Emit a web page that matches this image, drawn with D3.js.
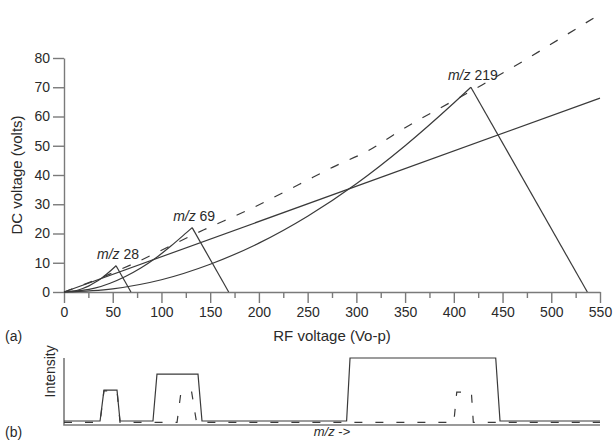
<!DOCTYPE html>
<html>
<head>
<meta charset="utf-8">
<script src="https://cdn.jsdelivr.net/npm/d3@7"></script>
<style>
  body { margin: 0; background: #fff; }
  text { font-family: "Liberation Sans", Arial, sans-serif; fill: #2a2a2a; }
</style>
</head>
<body>
<div id="chart"></div>
<script>
// RF voltage ticks and DC voltage ticks
var xTicks = [0, 50, 100, 150, 200, 250, 300, 350, 400, 450, 500, 550];
var xMinorTicks = [25, 75, 125, 175, 225, 275, 325, 375, 425, 475, 525];
var yTicks = [0, 10, 20, 30, 40, 50, 60, 70, 80];

// stability boundaries [RF, DC]: rising edge up to the apex, then the falling edge
var mz28 = [[0, 0], [12.8, 0.5], [19.2, 1.2], [25.6, 2.1], [32, 3.3], [38.4, 4.7], [44.8, 6.4], [51.2, 8.3], [53.4, 9]];
var mz28End = [53.4, 9, 68.7, 0];
var mz69 = [[0, 0], [31.5, 1.3], [47.3, 3], [63, 5.3], [78.8, 8.2], [94.5, 11.7], [110, 15.8], [126, 20.4], [131.5, 22]];
var mz69End = [131.5, 22, 169, 0];
var mz219 = [[0, 0], [50, 1.1], [100, 4.2], [150, 9.5], [200, 16.7], [250, 25.9], [300, 37], [350, 50], [400, 64.6], [417.5, 70]];
var mz219End = [417.5, 70, 537, 0];
var scanLine = [[0, 0], [550, 66.3]];
var scanCurve = [[0, 0], [30, 3.8], [68, 9.2], [143, 21.2], [190, 28.2], [242, 36.9], [276, 42.7], [317, 49.2], [338, 53.7], [429, 70.8], [468, 78.3], [507, 86.2], [550, 95]];
var peakLabels = [{ name: "28", at: [53.4, 9] }, { name: "69", at: [131.5, 22] }, { name: "219", at: [417.5, 70] }];

// spectrum (b): [m/z position, intensity]
var spectrumSolid = [[0, 6], [37, 6], [41, 52], [54.4, 52], [57.5, 6], [91.3, 6], [95.4, 76], [137.5, 76], [141.6, 6], [290, 6], [293.5, 100], [443, 100], [447.4, 6], [550, 6]];
var spectrumDashed = [[0, 4], [37, 4], [41, 51], [54.4, 51], [57.5, 4], [116, 4], [120, 49], [131, 49], [136, 4], [400, 4], [403, 49], [418, 49], [420, 4], [550, 4]];

var width = 613, height = 441;

var svg = d3.select("#chart").append("svg")
    .attr("width", width)
    .attr("height", height);

var x = d3.scaleLinear().domain([0, 550]).range([64, 600]);
var y = d3.scaleLinear().domain([0, 80]).range([292, 58]);

var lineColor = "#3a3a3a", axisColor = "#7a7a7a";

//axes of panel (a)
svg.append("g")
    .attr("transform", "translate(0," + y(0) + ")")
    .call(d3.axisBottom(x).tickValues(xTicks).tickSize(11).tickSizeOuter(0).tickPadding(4));
svg.append("g")
    .attr("transform", "translate(0," + y(0) + ")")
    .call(d3.axisBottom(x).tickValues(xMinorTicks).tickSize(6).tickFormat(""))
    .select(".domain").remove();
svg.append("g")
    .attr("transform", "translate(" + x(0) + ",0)")
    .call(d3.axisLeft(y).tickValues(yTicks).tickSize(11).tickSizeOuter(0).tickPadding(3));

svg.selectAll(".domain, .tick line")
    .attr("stroke", axisColor)
    .attr("stroke-width", 1.4);
svg.selectAll(".tick text")
    .style("font-size", "14px")
    .attr("fill", "#2a2a2a");

var smooth = d3.line()
    .curve(d3.curveMonotoneX)
    .x((d) => x(d[0]))
    .y((d) => y(d[1]));

//rising edges
svg.selectAll(".boundary")
    .data([mz28, mz69, mz219])
    .enter()
    .append("path")
    .attr("class", "boundary")
    .attr("d", smooth)
    .attr("fill", "none")
    .attr("stroke", lineColor)
    .attr("stroke-width", 1.2);

//falling edges
svg.selectAll(".edge")
    .data([mz28End, mz69End, mz219End])
    .enter()
    .append("line")
    .attr("class", "edge")
    .attr("x1", (d) => x(d[0]))
    .attr("y1", (d) => y(d[1]))
    .attr("x2", (d) => x(d[2]))
    .attr("y2", (d) => y(d[3]))
    .attr("stroke", lineColor)
    .attr("stroke-width", 1.2);

svg.append("path")
    .attr("d", smooth(scanLine))
    .attr("fill", "none")
    .attr("stroke", lineColor)
    .attr("stroke-width", 1.2);

svg.append("path")
    .attr("d", smooth(scanCurve))
    .attr("fill", "none")
    .attr("stroke", lineColor)
    .attr("stroke-width", 1.2)
    .attr("stroke-dasharray", "9,12");

//m/z labels above the apexes
var labels = svg.selectAll(".mzlabel")
    .data(peakLabels)
    .enter()
    .append("text")
    .attr("class", "mzlabel")
    .attr("x", (d) => x(d.at[0]) + 2)
    .attr("y", (d) => y(d.at[1]) - 7)
    .attr("text-anchor", "middle")
    .style("font-size", "14px");
labels.append("tspan").style("font-style", "italic").text("m/z");
labels.append("tspan").text((d) => " " + d.name);

svg.append("text")
    .attr("transform", "translate(22," + y(40) + ") rotate(-90)")
    .attr("text-anchor", "middle")
    .style("font-size", "15px")
    .text("DC voltage (volts)");
svg.append("text")
    .attr("x", x(275))
    .attr("y", 341)
    .attr("text-anchor", "middle")
    .style("font-size", "15px")
    .text("RF voltage (Vo-p)");
svg.append("text")
    .attr("x", 5)
    .attr("y", 341)
    .style("font-size", "14px")
    .text("(a)");

//panel (b) spectrum
var yb = d3.scaleLinear().domain([0, 100]).range([425, 358]);

svg.append("path")
    .attr("d", "M" + x(0) + "," + yb(100) + "V" + yb(0) + "H" + x(550))
    .attr("fill", "none")
    .attr("stroke", axisColor)
    .attr("stroke-width", 1.6);

var lineB = d3.line()
    .x((d) => x(d[0]))
    .y((d) => yb(d[1]));

svg.append("path")
    .attr("d", lineB(spectrumSolid))
    .attr("fill", "none")
    .attr("stroke", lineColor)
    .attr("stroke-width", 1.2);
svg.append("path")
    .attr("d", lineB(spectrumDashed))
    .attr("fill", "none")
    .attr("stroke", lineColor)
    .attr("stroke-width", 1.2)
    .attr("stroke-dasharray", "8,13");

svg.append("text")
    .attr("transform", "translate(55," + yb(80) + ") rotate(-90)")
    .attr("text-anchor", "middle")
    .style("font-size", "14px")
    .text("Intensity");
svg.append("text")
    .attr("x", 5)
    .attr("y", 437)
    .style("font-size", "14px")
    .text("(b)");
var mzAxis = svg.append("text")
    .attr("x", x(275))
    .attr("y", 436)
    .attr("text-anchor", "middle")
    .style("font-size", "13px");
mzAxis.append("tspan").style("font-style", "italic").text("m/z");
mzAxis.append("tspan").text(" ->");
</script>
</body>
</html>
